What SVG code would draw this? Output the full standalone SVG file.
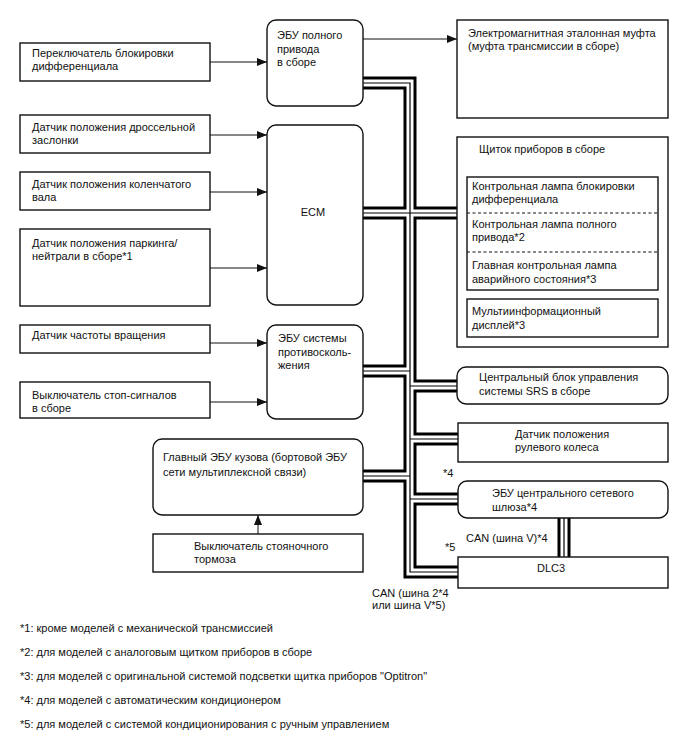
<svg xmlns="http://www.w3.org/2000/svg" width="688" height="755" viewBox="0 0 688 755">
<style>
text{font-family:"Liberation Sans",Arial,sans-serif;font-size:11px;fill:#111}
.box{fill:#fff;stroke:#111;stroke-width:1.4}
.in{fill:none;stroke:#111;stroke-width:1.4}
.dash{stroke:#111;stroke-width:1.2;stroke-dasharray:3,2.5;fill:none}
.ln{stroke:#111;stroke-width:1;fill:none}
.b1{stroke:#000;stroke-width:13;fill:none}
.b2{stroke:#fff;stroke-width:7;fill:none}
.b3{stroke:#000;stroke-width:1.2;fill:none}
</style>
<defs>
<marker id="ar" viewBox="0 0 10 8" refX="10" refY="4" markerWidth="10" markerHeight="8" markerUnits="userSpaceOnUse" orient="auto">
<path d="M0,0 L10,4 L0,8 z" fill="#111"/>
</marker>
<path id="bus" d="M363,83 H410 V572 H458 M363,213 H457 M363,371 H410 M410,386 H457 M410,439 H458 M363,476 H410 M410,499 H458 M564,518 V557"/>
</defs>

<g id="connectors">
<use href="#bus" class="b1"/>
<use href="#bus" class="b2"/>
<use href="#bus" class="b3"/>
<path class="ln" d="M210,62 H267" marker-end="url(#ar)"/>
<path class="ln" d="M210,135 H267" marker-end="url(#ar)"/>
<path class="ln" d="M210,192 H267" marker-end="url(#ar)"/>
<path class="ln" d="M210,268 H267" marker-end="url(#ar)"/>
<path class="ln" d="M210,343 H267" marker-end="url(#ar)"/>
<path class="ln" d="M210,402 H267" marker-end="url(#ar)"/>
<path class="ln" d="M363,39 H457" marker-end="url(#ar)"/>
<path class="ln" d="M258,534 V515" marker-end="url(#ar)"/>
</g>

<g id="diff-lock-switch">
<rect class="box" x="20" y="43" width="190" height="38"/>
<text x="32" y="57">Переключатель блокировки</text>
<text x="32" y="70">дифференциала</text>
</g>
<g id="throttle-sensor">
<rect class="box" x="20" y="115" width="190" height="38"/>
<text x="32" y="131">Датчик положения дроссельной</text>
<text x="32" y="144">заслонки</text>
</g>
<g id="crank-sensor">
<rect class="box" x="20" y="172" width="190" height="38"/>
<text x="32" y="188">Датчик положения коленчатого</text>
<text x="32" y="201">вала</text>
</g>
<g id="pn-sensor">
<rect class="box" x="20" y="229" width="190" height="77"/>
<text x="32" y="247">Датчик положения паркинга/</text>
<text x="32" y="260">нейтрали в сборе*1</text>
</g>
<g id="speed-sensor">
<rect class="box" x="20" y="325" width="190" height="28"/>
<text x="32" y="339">Датчик частоты вращения</text>
</g>
<g id="stop-switch">
<rect class="box" x="20" y="382" width="190" height="36"/>
<text x="32" y="399">Выключатель стоп-сигналов</text>
<text x="32" y="412">в сборе</text>
</g>

<g id="awd-ecu">
<rect class="box" x="267" y="20" width="96" height="86" rx="9"/>
<text x="277" y="39">ЭБУ полного</text>
<text x="277" y="53">привода</text>
<text x="277" y="66">в сборе</text>
</g>
<g id="ecm">
<rect class="box" x="267" y="125" width="96" height="180" rx="9"/>
<text x="313" y="216" text-anchor="middle">ECM</text>
</g>
<g id="abs-ecu">
<rect class="box" x="267" y="325" width="96" height="94" rx="9"/>
<text x="278" y="342">ЭБУ системы</text>
<text x="278" y="356">противосколь-</text>
<text x="278" y="369">жения</text>
</g>
<g id="body-ecu">
<rect class="box" x="153" y="439" width="210" height="76" rx="9"/>
<text x="163" y="461">Главный ЭБУ кузова (бортовой ЭБУ</text>
<text x="163" y="476">сети мультиплексной связи)</text>
</g>
<g id="parking-switch">
<rect class="box" x="153" y="534" width="210" height="38"/>
<text x="194" y="550">Выключатель стояночного</text>
<text x="194" y="563">тормоза</text>
</g>

<g id="clutch">
<rect class="box" x="457" y="20" width="211" height="98"/>
<text x="468" y="37">Электромагнитная эталонная муфта</text>
<text x="468" y="50">(муфта трансмиссии в сборе)</text>
</g>
<g id="combination-meter">
<rect class="box" x="457" y="137" width="211" height="210"/>
<text x="479" y="153">Щиток приборов в сборе</text>
<rect class="in" x="467" y="177" width="191" height="113"/>
<line class="dash" x1="467" y1="213" x2="658" y2="213"/>
<line class="dash" x1="467" y1="252" x2="658" y2="252"/>
<text x="472" y="190">Контрольная лампа блокировки</text>
<text x="472" y="203">дифференциала</text>
<text x="472" y="228">Контрольная лампа полного</text>
<text x="472" y="241">привода*2</text>
<text x="472" y="269">Главная контрольная лампа</text>
<text x="472" y="283">аварийного состояния*3</text>
<rect class="in" x="467" y="299" width="191" height="38"/>
<text x="472" y="315">Мультиинформационный</text>
<text x="472" y="329">дисплей*3</text>
</g>
<g id="srs">
<rect class="box" x="457" y="367" width="211" height="37" rx="9"/>
<text x="479" y="381">Центральный блок управления</text>
<text x="479" y="395">системы SRS в сборе</text>
</g>
<g id="steering-sensor">
<rect class="box" x="458" y="423" width="210" height="39"/>
<text x="515" y="438">Датчик положения</text>
<text x="515" y="451">рулевого колеса</text>
</g>
<g id="gateway">
<rect class="box" x="458" y="481" width="210" height="37" rx="9"/>
<text x="492" y="497">ЭБУ центрального сетевого</text>
<text x="492" y="511">шлюза*4</text>
</g>
<g id="dlc3">
<rect class="box" x="458" y="557" width="210" height="31"/>
<text x="551" y="572" text-anchor="middle">DLC3</text>
</g>

<g id="labels">
<text x="443" y="477">*4</text>
<text x="445" y="551">*5</text>
<text x="466" y="542">CAN (шина V)*4</text>
<text x="372" y="597">CAN (шина 2*4</text>
<text x="372" y="609">или шина V*5)</text>
</g>

<g id="footnotes">
<text x="20" y="632">*1: кроме моделей с механической трансмиссией</text>
<text x="20" y="656">*2: для моделей с аналоговым щитком приборов в сборе</text>
<text x="20" y="680">*3: для моделей с оригинальной системой подсветки щитка приборов "Optitron"</text>
<text x="20" y="704">*4: для моделей с автоматическим кондиционером</text>
<text x="20" y="728">*5: для моделей с системой кондиционирования с ручным управлением</text>
</g>
</svg>
